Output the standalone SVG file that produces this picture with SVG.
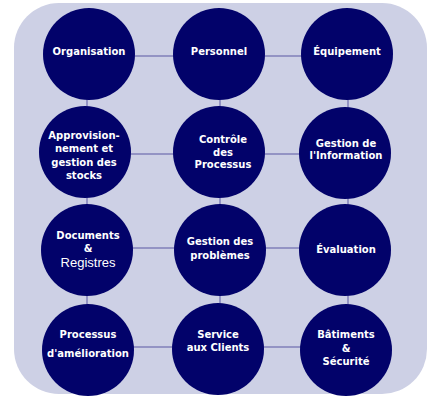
<svg xmlns="http://www.w3.org/2000/svg" width="430" height="398" viewBox="0 0 430 398">
<style>
.bg{fill:#cdd0e5}
.c{fill:#02026a}
.l{stroke:#9393c4;stroke-width:2;fill:none}
.t{font-family:"DejaVu Sans",Verdana,sans-serif;font-size:10px;font-weight:bold;fill:#ffffff;text-anchor:middle}
.r{font-family:"Liberation Sans",Arial,sans-serif;font-size:13px;font-weight:normal;fill:#ffffff;text-anchor:middle}
</style>
<rect width="430" height="398" fill="#ffffff"/>
<rect class="bg" x="14" y="3" width="413" height="391" rx="45" ry="45"/>
<g id="connectors">
<line class="l" x1="89" y1="56" x2="347" y2="56"/>
<line class="l" x1="85" y1="154" x2="345" y2="154"/>
<line class="l" x1="87" y1="248" x2="345" y2="248"/>
<line class="l" x1="88" y1="347" x2="346" y2="347"/>
<line class="l" x1="87" y1="54" x2="87" y2="350"/>
<line class="l" x1="220" y1="54" x2="220" y2="349"/>
<line class="l" x1="348" y1="54" x2="348" y2="350"/>
</g>
<g id="organisation"><circle class="c" cx="89" cy="54" r="46"/><text class="t" x="89" y="55">Organisation</text></g>
<g id="personnel"><circle class="c" cx="219" cy="54" r="46"/><text class="t" x="219" y="55">Personnel</text></g>
<g id="equipement"><circle class="c" cx="347" cy="54" r="46"/><text class="t" x="347" y="55">Équipement</text></g>
<g id="approvisionnement"><circle class="c" cx="85" cy="152" r="46"/><text class="t" x="84" y="139">Approvision-</text><text class="t" x="84" y="152">nement et</text><text class="t" x="84" y="166">gestion des</text><text class="t" x="84" y="179">stocks</text></g>
<g id="controle"><circle class="c" cx="219" cy="152" r="46"/><text class="t" x="223" y="143">Contrôle</text><text class="t" x="223" y="156">des</text><text class="t" x="223" y="168">Processus</text></g>
<g id="gestion-info"><circle class="c" cx="345" cy="153" r="46"/><text class="t" x="346" y="147">Gestion de</text><text class="t" x="346" y="159">l'Information</text></g>
<g id="documents"><circle class="c" cx="87" cy="250" r="46"/><text class="t" x="88" y="239">Documents</text><text class="t" x="88" y="252">&amp;</text><text class="r" x="88" y="267">Registres</text></g>
<g id="gestion-problemes"><circle class="c" cx="220" cy="250" r="46"/><text class="t" x="220" y="245">Gestion des</text><text class="t" x="220" y="259">problèmes</text></g>
<g id="evaluation"><circle class="c" cx="345" cy="250" r="46"/><text class="t" x="346" y="253">Évaluation</text></g>
<g id="processus"><circle class="c" cx="88" cy="350" r="46"/><text class="t" x="88" y="338">Processus</text><text class="t" x="88" y="357">d'amélioration</text></g>
<g id="service"><circle class="c" cx="218" cy="349" r="46"/><text class="t" x="218" y="338">Service</text><text class="t" x="218" y="351">aux Clients</text></g>
<g id="batiments"><circle class="c" cx="346" cy="350" r="46"/><text class="t" x="346" y="338">Bâtiments</text><text class="t" x="346" y="352">&amp;</text><text class="t" x="346" y="365">Sécurité</text></g>
</svg>
